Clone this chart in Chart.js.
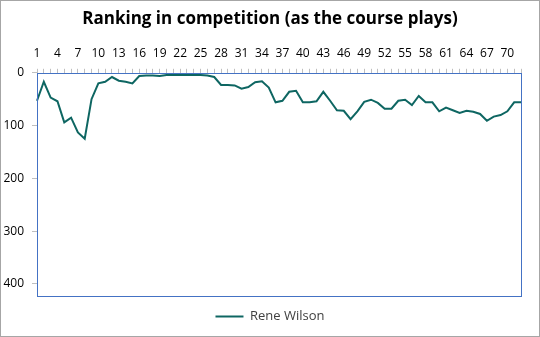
<!DOCTYPE html>
<html>
<head>
<meta charset="utf-8">
<script src="https://cdn.jsdelivr.net/npm/chart.js@4/dist/chart.umd.min.js"></script>
<style>
  html, body { margin: 0; padding: 0; background: #fff; }
  #wrap { width: 538px; height: 335px; border: 1px solid #a6a6a6; }
</style>
</head>
<body>
<div id="wrap"><canvas id="grafico" width="538" height="335"></canvas></div>
<script>
const rondas = [];
for (let i = 1; i <= 72; i++) rondas.push(String(i));

const ranking = [
  53, 17, 47, 54, 94, 85, 113, 125, 50, 20,
  17, 8, 15, 17, 20, 6, 5, 5, 6, 4,
  4, 4, 4, 4, 4, 5, 8, 23, 23, 24,
  30, 27, 18, 16, 28, 56, 53, 36, 34, 56,
  56, 54, 36, 53, 71, 72, 88, 73, 55, 51,
  57, 68, 68, 53, 51, 61, 44, 56, 56, 73,
  66, 71, 76, 72, 74, 78, 91, 83, 80, 73,
  56, 56
];

const yTicks = [0, 100, 200, 300, 400];
const yMax = 423;

// borde azul del area de trazado
const bordeGrafico = {
  id: "bordeGrafico",
  afterDraw(chart) {
    const a = chart.chartArea;
    const ctx = chart.ctx;
    ctx.save();
    ctx.strokeStyle = "#4472c4";
    ctx.lineWidth = 1;
    ctx.strokeRect(Math.round(a.left) + 0.5, Math.round(a.top) + 0.5,
      Math.round(a.right - a.left), Math.round(a.bottom - a.top));
    ctx.restore();
  }
};

const ctx = document.getElementById("grafico").getContext("2d");
new Chart(ctx, {
  type: "line",
  data: {
    labels: rondas,
    datasets: [
      {
        label: "Rene Wilson",
        data: ranking,
        borderColor: "#0e6662",
        backgroundColor: "#0e6662",
        borderWidth: 2,
        pointRadius: 0,
        pointStyle: "line",
        tension: 0,
        fill: false,
      },
    ],
  },
  options: {
    responsive: false,
    animation: false,
    layout: { padding: { left: 0, right: 0, top: 0, bottom: 3 } },
    plugins: {
      title: {
        display: true,
        text: "Ranking in competition (as the course plays)",
        color: "#000",
        font: { family: "Open Sans", size: 17, weight: "bold" },
        padding: { top: 8, bottom: 9 },
      },
      legend: {
        position: "bottom",
        labels: {
          color: "#404040",
          font: { family: "Open Sans", size: 13 },
          usePointStyle: true,
          pointStyle: "line",
          pointStyleWidth: 28,
          padding: 14,
        },
      },
      tooltip: { enabled: false },
    },
    scales: {
      x: {
        position: "top",
        offset: false,
        grid: { display: true, drawOnChartArea: false, drawTicks: true, tickLength: 4, color: "#bfbfbf" },
        border: { display: false },
        ticks: {
          autoSkip: false,
          maxRotation: 0,
          color: "#000",
          padding: 8,
          font: { family: "Open Sans", size: 12 },
          callback: function (v, i) { return i % 3 === 0 ? rondas[i] : ""; },
        },
      },
      y: {
        reverse: true,
        min: 0,
        max: yMax,
        afterBuildTicks: (s) => { s.ticks = yTicks.map((v) => ({ value: v })); },
        afterFit: (s) => { s.width = 36; },
        grid: { display: true, drawOnChartArea: false, drawTicks: true, tickLength: 5, color: "#bfbfbf" },
        border: { display: false },
        ticks: {
          color: "#000",
          padding: 8,
          font: { family: "Open Sans", size: 12 },
        },
      },
      // eje vacio a la derecha, solo para dejar margen
      y2: {
        type: "linear",
        position: "right",
        afterFit: (s) => { s.width = 18; },
        grid: { display: false },
        border: { display: false },
        ticks: { display: false },
      },
    },
  },
  plugins: [bordeGrafico],
});
</script>
</body>
</html>
